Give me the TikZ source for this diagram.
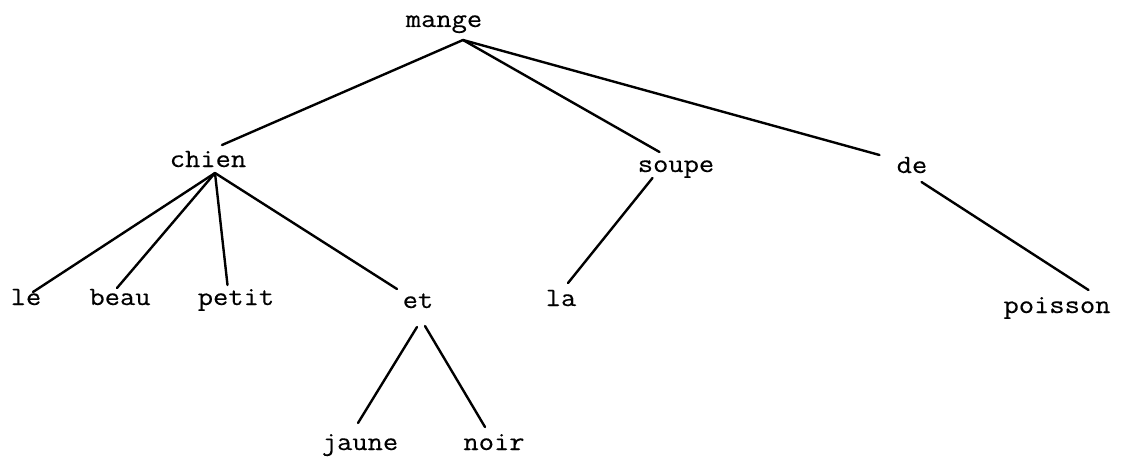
\documentclass[tikz,border=0pt]{standalone}
\usepackage{fontspec}
\newfontfamily\typewriter{Latin Modern Mono}[FakeStretch=1.12,FakeBold=0.3]
\begin{document}
\begin{tikzpicture}[x=1pt,y=-1pt,
  word/.style={anchor=base,inner sep=0pt,font=\typewriter\fontsize{26.5}{30}\selectfont},
  link/.style={line width=2.4pt,line cap=round}]
\useasboundingbox (0,0) rectangle (1139,460);
\node[word] (mange) at (444,27) {mange};
\node[word] (chien) at (208,167) {chien};
\node[word] (soupe) at (676,172) {soupe};
\node[word] (de) at (912,173) {de};
\node[word] (le) at (26,305) {le};
\node[word] (beau) at (120,305) {beau};
\node[word] (petit) at (236,305) {petit};
\node[word] (et) at (418,308) {et};
\node[word] (la) at (561,306) {la};
\node[word] (poisson) at (1057,313) {poisson};
\node[word] (jaune) at (360,450) {jaune};
\node[word] (noir) at (494,450) {noir};
\draw[link] ([shift={(19,13)}]mange.base) -- ([shift={(14,-22)}]chien.base);
\draw[link] ([shift={(19,13)}]mange.base) -- ([shift={(-16.5,-20)}]soupe.base);
\draw[link] ([shift={(19,13)}]mange.base) -- ([shift={(-32.5,-18)}]de.base);
\draw[link] ([shift={(7,6)}]chien.base) -- ([shift={(7,-13)}]le.base);
\draw[link] ([shift={(7,6)}]chien.base) -- ([shift={(-3,-17)}]beau.base);
\draw[link] ([shift={(7,6)}]chien.base) -- ([shift={(-8.5,-20)}]petit.base);
\draw[link] ([shift={(7,6)}]chien.base) -- ([shift={(-21,-19)}]et.base);
\draw[link] ([shift={(-23.5,6)}]soupe.base) -- ([shift={(7,-23)}]la.base);
\draw[link] ([shift={(9.5,9)}]de.base) -- ([shift={(31.5,-23)}]poisson.base);
\draw[link] ([shift={(-1,19)}]et.base) -- ([shift={(-2,-27)}]jaune.base);
\draw[link] ([shift={(7,18)}]et.base) -- ([shift={(-9,-23)}]noir.base);
\end{tikzpicture}
\end{document}
